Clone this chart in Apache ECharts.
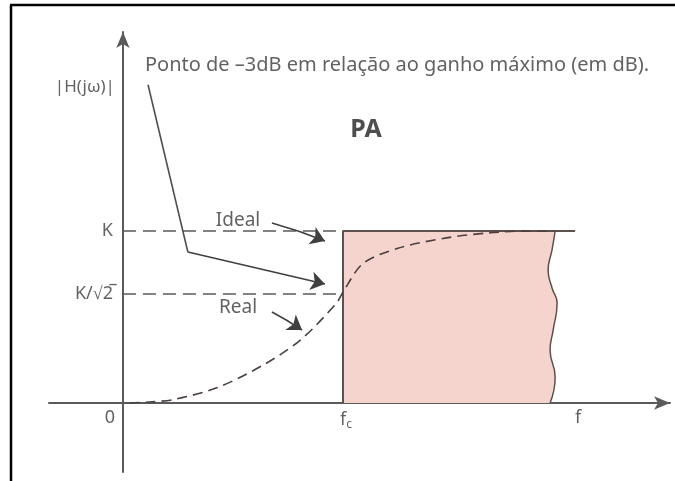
<!DOCTYPE html>
<html>
<head>
<meta charset="utf-8">
<script src="https://cdn.jsdelivr.net/npm/echarts@6/dist/echarts.min.js"></script>
<style>
    html, body { margin: 0; padding: 0; background: #fff; overflow: hidden; }
    #chart { width: 675px; height: 481px; }
</style>
</head>
<body>
<div id="chart"></div>
<script>
    /* niveis e frequencias (unidades normalizadas: fc = 1, K = 1) */
    var fc = 1;
    var K = 1;
    var kRoot2Level = 0.634;   // altura desenhada de K/sqrt(2)
    var fEnd = 2.055;          // fim da linha ideal

    /* curva real (tracejada) */
    var realX = [0.03, 0.12, 0.23, 0.43, 0.65, 0.81, 0.97, 1.0, 1.09, 1.25, 1.47, 1.67, 1.85, 1.96];
    var realY = [0, 0.006, 0.02, 0.09, 0.23, 0.37, 0.58, 0.645, 0.81, 0.9, 0.96, 0.99, 1.0, 1.0];

    /* borda ondulada da faixa de passagem */
    var edgeX = [1.964, 1.95, 1.932, 1.95, 1.973, 1.955, 1.941, 1.964, 1.941];
    var edgeY = [1, 0.89, 0.773, 0.669, 0.581, 0.424, 0.308, 0.151, 0];

    /* setas de anotacao */
    var noteLeader = [[0.114, 1.85], [0.295, 0.878]];
    var noteArrow = [[0.295, 0.878], [0.918, 0.692]];
    var idealArrow = [[0.677, 1.047], [0.918, 0.942]];
    var realArrow = [[0.677, 0.529], [0.814, 0.424]];

    /* textos */
    var texts = [
        { name: '|H(jω)|', value: [-0.173, 1.837], align: 'center', size: 17 },
        { name: 'Ponto de –3dB em relação ao ganho máximo (em dB).', value: [0.1, 1.965], align: 'left', size: 20 },
        { name: 'Ideal', value: [0.523, 1.058], align: 'center', size: 19 },
        { name: 'Real', value: [0.523, 0.552], align: 'center', size: 19 }
    ];
    var yLabels = [
        { name: 'K', value: [0, K] },
        { name: 'K/√2̅', value: [0, kRoot2Level] }
    ];
    var xLabels = [
        { name: '0', value: [0, 0] },
        { name: 'f{s|c}', value: [fc, 0] },
        { name: 'f', value: [fEnd, 0] }
    ];

    var lineColor = '#5a5a5a';
    var textColor = '#3a3a3a';
    var font = 'Noto Sans';

    function zip(xs, ys) {
        return xs.map(function (x, i) { return [x, ys[i]]; });
    }

    var boxPoly = [[fc, 0], [fc, K]].concat(zip(edgeX, edgeY));

    var chart = echarts.init(document.getElementById('chart'));
    var option = {
        animation: false,
        backgroundColor: '#fff',
        grid: { left: 49, right: 5, top: 32, bottom: 9 },
        graphic: [
            { type: 'line', shape: { x1: 11, y1: 5, x2: 11, y2: 481 }, style: { stroke: '#000', lineWidth: 2.5 } },
            { type: 'line', shape: { x1: 10, y1: 5, x2: 675, y2: 5 }, style: { stroke: '#000', lineWidth: 2.5 } }
        ],
        xAxis: {
            type: 'value',
            min: -0.336,
            max: 2.486,
            axisLine: {
                onZero: true,
                symbol: ['none', 'arrow'],
                symbolSize: [10, 16],
                lineStyle: { color: lineColor, width: 2 }
            },
            axisTick: { show: false },
            axisLabel: { show: false },
            splitLine: { show: false }
        },
        yAxis: {
            type: 'value',
            min: -0.401,
            max: 2.157,
            axisLine: {
                onZero: true,
                symbol: ['none', 'arrow'],
                symbolSize: [10, 16],
                lineStyle: { color: lineColor, width: 2 }
            },
            axisTick: { show: false },
            axisLabel: { show: false },
            splitLine: { show: false }
        },
        series: [
            {
                type: 'custom',
                silent: true,
                z: 1,
                data: [[fc, 0]],
                renderItem: function (params, api) {
                    return {
                        type: 'polygon',
                        shape: { points: boxPoly.map(function (p) { return api.coord(p); }) },
                        style: { fill: '#f4d4cd', stroke: null }
                    };
                }
            },
            {
                type: 'line', symbol: 'none', z: 3,
                data: [[fc, 0], [fc, K], [fEnd, K]],
                lineStyle: { color: '#5e504c', width: 2 }
            },
            {
                type: 'line', symbol: 'none', z: 3, smooth: 0.5,
                data: zip(edgeX, edgeY),
                lineStyle: { color: '#5e504c', width: 1.5 }
            },
            {
                type: 'line', symbol: 'none', z: 3,
                data: [[0, K], [fc, K]],
                lineStyle: { color: lineColor, width: 1.6, type: [13, 7] }
            },
            {
                type: 'line', symbol: 'none', z: 3,
                data: [[0, kRoot2Level], [fc, kRoot2Level]],
                lineStyle: { color: lineColor, width: 1.6, type: [13, 7] }
            },
            {
                type: 'line', symbol: 'none', z: 4, smooth: 0.3,
                data: zip(realX, realY),
                lineStyle: { color: '#4a4040', width: 1.6, type: [10, 6] }
            },
            {
                type: 'line', symbol: 'none', z: 5,
                data: noteLeader,
                lineStyle: { color: '#505050', width: 1.6 }
            },
            {
                type: 'lines',
                coordinateSystem: 'cartesian2d',
                z: 5,
                symbol: ['none', 'arrow'],
                symbolSize: [8, 14],
                lineStyle: { color: '#404040', width: 1.6, opacity: 1, curveness: 0 },
                data: [{ coords: noteArrow }]
            },
            {
                type: 'lines',
                coordinateSystem: 'cartesian2d',
                z: 5,
                symbol: ['none', 'arrow'],
                symbolSize: [8, 14],
                lineStyle: { color: '#404040', width: 1.6, opacity: 1, curveness: 0.03 },
                data: [{ coords: idealArrow }, { coords: realArrow }]
            },
            {
                type: 'scatter',
                symbolSize: 0,
                z: 6,
                data: texts.map(function (t) {
                    return {
                        name: t.name, value: t.value,
                        label: { align: t.align, fontSize: t.size }
                    };
                }),
                label: {
                    show: true,
                    position: 'inside',
                    formatter: '{b}',
                    color: textColor,
                    fontFamily: font
                }
            },
            {
                type: 'scatter',
                symbolSize: 0,
                z: 6,
                data: [{ name: 'PA', value: [1.105, 1.587] }],
                label: {
                    show: true,
                    position: 'inside',
                    formatter: '{b}',
                    color: '#222',
                    fontFamily: font,
                    fontWeight: 'bold',
                    fontSize: 25
                }
            },
            {
                type: 'scatter',
                symbolSize: 0,
                z: 6,
                data: yLabels,
                label: {
                    show: true,
                    position: 'left',
                    distance: 10,
                    formatter: '{b}',
                    color: textColor,
                    fontFamily: font,
                    fontSize: 18
                }
            },
            {
                type: 'scatter',
                symbolSize: 0,
                z: 6,
                data: xLabels.map(function (d, i) {
                    return { name: d.name, value: d.value, label: { offset: i === 0 ? [-13, 0] : [3, 0] } };
                }),
                label: {
                    show: true,
                    position: 'bottom',
                    distance: 6,
                    formatter: '{b}',
                    color: textColor,
                    fontFamily: font,
                    fontSize: 18,
                    rich: {
                        s: { fontSize: 12, verticalAlign: 'bottom', padding: [10, 0, 0, 0], color: textColor, fontFamily: font }
                    }
                }
            }
        ]
    };
    chart.setOption(option);
</script>
</body>
</html>
